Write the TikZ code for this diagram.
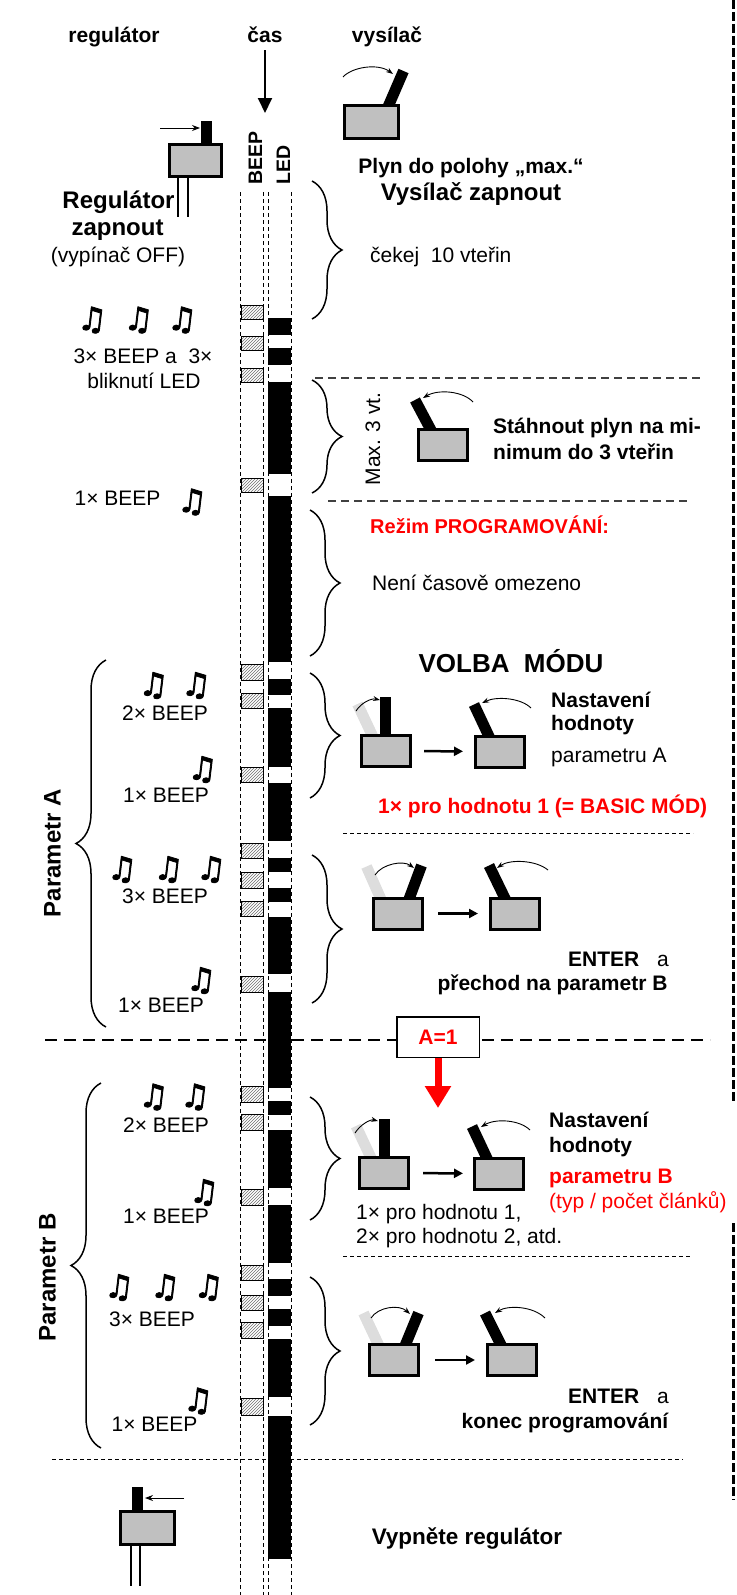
\documentclass[tikz,border=0pt]{standalone}
\usepackage{fontspec}
\setmainfont{Liberation Sans}
\newfontfamily\notefont[FakeBold=2.5,FakeSlant=0.12]{DejaVu Sans}
\usetikzlibrary{arrows.meta,decorations.pathreplacing,patterns,backgrounds}
\definecolor{boxgray}{RGB}{192,192,192}
\definecolor{ghostgray}{RGB}{221,221,221}
\definecolor{hatchgray}{RGB}{110,110,110}
\begin{document}
\begin{tikzpicture}[x=1pt,y=-1pt,
    every node/.style={inner sep=0pt, font=\fontsize{21}{25}\selectfont},
    bf/.style={font=\fontsize{21}{25}\selectfont\bfseries},
    big/.style={font=\fontsize{24}{28}\selectfont\bfseries},
    note/.style={font=\notefont\fontsize{32}{32}\selectfont},
    swbox/.style={draw, line width=3pt, fill=boxgray, minimum width=49pt, minimum height=31pt},
    bigbox/.style={swbox, minimum width=54pt, minimum height=33pt},
    stick/.style={line width=11pt},
    ghost/.style={line width=11pt, draw=ghostgray},
    swing/.style={line width=0.9pt, -{Stealth[length=7pt,width=5pt]}},
    movearrow/.style={line width=2.5pt, -{Triangle[length=9pt,width=9pt]}},
    pointer/.style={line width=1pt, -{Stealth[length=8pt,width=6pt]}},
    wire/.style={line width=1.5pt},
    beep/.style={draw, line width=0.8pt, pattern=north east lines, pattern color=hatchgray},
    col/.style={line width=0.9pt, dash pattern=on 4pt off 3pt},
    partline/.style={line width=1.3pt, dash pattern=on 8pt off 5pt, draw=black!75},
    thinpart/.style={line width=1pt, dash pattern=on 4pt off 3pt},
    thickpart/.style={line width=2.5pt, dash pattern=on 12pt off 7pt},
    rbrace/.style={decorate, decoration={brace, amplitude=30pt}, line width=1.5pt}]
  \useasboundingbox (0,0) rectangle (736,1595);

  \node[bf, anchor=base] (reg) at (114,43) {regulátor};
  \node[bf, anchor=base] (cas) at (265,43) {čas};
  \node[bf, anchor=base] (vys) at (387,43) {vysílač};
  \coordinate (casend) at (265,113);
  \draw[line width=2pt, -{Triangle[length=15pt,width=14pt]}] ([yshift=-7pt]cas.south) -- (casend);
  \node[font=\fontsize{19.5}{23}\selectfont\bfseries, rotate=90, anchor=base west] (beeplab) at (262,185) {BEEP};
  \node[font=\fontsize{19.5}{23}\selectfont\bfseries, rotate=90, anchor=base west] (ledlab) at (290,185) {LED};

  \foreach \x in {240,263,268,291}
    \draw[col] (\x,192) -- (\x,1595);

  \draw[partline] (315,378) -- (703,378);
  \draw[partline] (328,501) -- (690,501);
  \draw[thinpart] (343,833) -- (693,833);
  \draw[thickpart] (45,1040) -- (710,1040);
  \draw[thinpart] (343,1256) -- (690,1256);
  \draw[thinpart] (52,1459) -- (683,1459);
  \draw[line width=3pt, dash pattern=on 9pt off 3pt] (733,0) -- (733,1103);
  \draw[line width=3pt, dash pattern=on 9pt off 3pt] (733,1223) -- (733,1500);

  \foreach \a/\b in {305/319,336/350,368/382,478/492,664/680,693/708,767/782,843/858,872/888,901/916,976/992,1086/1102,1114/1130,1189/1205,1265/1280,1295/1310,1322/1338,1398/1415}
    \draw[beep] (241,\a) rectangle (263,\b);
  \foreach \a/\b in {318/335,348/365,382/474,496/662,679/695,708/767,783/841,858/872,888/902,917/974,992/1088,1101/1115,1130/1188,1205/1263,1279/1296,1309/1326,1339/1397,1416/1559}
    \fill (268,\a) rectangle (291,\b);

  \node[swbox, minimum width=52pt, minimum height=32pt] (reg0) at (195.5,160.5) {};
  \coordinate (reg0in) at (160,128);
  \coordinate (reg0tip) at (200,128);
  \draw[pointer] (reg0in) -- (reg0tip);
  \draw[wire] ([xshift=-17.5pt]reg0.south) -- ++(0,38.5);
  \draw[wire] ([xshift=-7.5pt]reg0.south) -- ++(0,38.5);
  \node[font=\fontsize{24}{28}\selectfont\bfseries, anchor=base] (regon) at (118.5,208) {Regulátor};
  \node[big, anchor=base] (regon2) at (117.5,235) {zapnout};
  \node[anchor=base] (regoff) at (118,262) {(vypínač OFF)};

  \node[bigbox] (vys0) at (371.5,122) {};
  \draw[swing] (343,77) .. controls (352,67) and (378,63) .. (393,74);
  \node[bf, anchor=base] (plyn) at (471,173) {Plyn do polohy „max.“};
  \node[big, anchor=base] (vyson) at (471,200) {Vysílač zapnout};

  \draw[rbrace] (312,181) -- (312,319);
  \node[anchor=base west] (wait10) at (370,262) {čekej\ \ 10 vteřin};

  \node[note] (n1a) at (91,320) {♫};
  \node[note] (n1b) at (137.5,320) {♫};
  \node[note] (n1c) at (181,320) {♫};
  \node[anchor=base] (beep3) at (143,363) {3× BEEP a\ \ 3×};
  \node[anchor=base] (blik) at (144,388) {bliknutí LED};

  \draw[rbrace] (312,380) -- (312,493);
  \node[rotate=90] (max3) at (373,439) {Max. 3 vt.};
  \node[swbox] (st0) at (442.5,445) {};
  \draw[swing] (473,402) .. controls (463,391) and (438,389) .. (423,398);
  \node[bf, anchor=base west] (sth1) at (493,433) {Stáhnout plyn na mi-};
  \node[bf, anchor=base west] (sth2) at (493,459) {nimum do 3 vteřin};
  \node[anchor=base] (b1) at (117.5,505) {1× BEEP};
  \node[note] (n2) at (191,502) {♫};

  \draw[rbrace] (310,510) -- (310,656);
  \node[font=\fontsize{20}{24}\selectfont\bfseries, text=red, anchor=base west] (prog) at (370,533) {Režim PROGRAMOVÁNÍ:};
  \node[anchor=base west] (noto) at (372,590) {Není časově omezeno};
  \node[font=\fontsize{26}{30}\selectfont\bfseries, anchor=base] (volba) at (511,672) {VOLBA\ \ MÓDU};

  \draw[rbrace] (106,1027) -- (106,660);
  \node[big, rotate=90] (parA) at (52.5,853) {Parametr A};

  \node[note] (n3a) at (152.5,685.5) {♫};
  \node[note] (n3b) at (195,685.5) {♫};
  \node[anchor=base] (b2a) at (165,720) {2× BEEP};
  \draw[rbrace] (310,673) -- (310,798);
  \node[swbox] (a1l) at (385.5,751) {};
  \node[swbox] (a1r) at (500,751.5) {};
  \draw[movearrow, shorten <=12.5pt, shorten >=11pt] (a1l) -- (a1r);
  \draw[swing] (356,711) .. controls (361,703) and (371,698) .. (380,700);
  \draw[swing] (531,708) .. controls (521,698) and (497,696) .. (482,703);
  \node[bf, anchor=base west] (nas1) at (551,707) {Nastavení};
  \node[bf, anchor=base west] (hod1) at (551,730) {hodnoty};
  \node[anchor=base west] (parA1) at (551,762) {parametru A};
  \node[bf, text=red, anchor=base west] (basic) at (378,813) {1× pro hodnotu 1 (= BASIC MÓD)};
  \node[anchor=base] (b1a) at (166,802) {1× BEEP};
  \node[note] (n4) at (201.5,769.5) {♫};

  \node[note] (n5a) at (121,869.5) {♫};
  \node[note] (n5b) at (167.5,869.5) {♫};
  \node[note] (n5c) at (210,869.5) {♫};
  \node[anchor=base] (b3a) at (165,903) {3× BEEP};
  \draw[rbrace] (312,855) -- (312,1003);
  \node[swbox] (a2l) at (397.5,913.5) {};
  \node[swbox] (a2r) at (515,913.5) {};
  \draw[movearrow, shorten <=14.5pt, shorten >=11pt] (a2l) -- (a2r);
  \draw[swing] (375,875) .. controls (382,864) and (403,860) .. (414,868);
  \draw[swing] (548,870) .. controls (536,860) and (510,859) .. (497,868);
  \node[bf, anchor=base west] (ent1) at (568,966) {ENTER};
  \node[anchor=base] (and1) at (663,966) {a};
  \node[bf, anchor=base] (toB) at (552.5,990) {přechod na parametr B};
  \node[anchor=base] (b1c) at (161,1012) {1× BEEP};
  \node[note] (n6) at (200,980.5) {♫};

  \node[draw, line width=1.5pt, fill=white, minimum width=82.5pt, minimum height=40.5pt, bf, text=red] (aone) at (438,1037) {A=1};
  \coordinate (aonetip) at (438,1108);
  \draw[red, line width=7pt, -{Triangle[length=22pt,width=25pt]}] (aone) -- (aonetip);

  \draw[rbrace] (101,1448) -- (101,1083);
  \node[big, rotate=90] (parB) at (47.5,1277.5) {Parametr B};

  \node[note] (n7a) at (152.5,1097) {♫};
  \node[note] (n7b) at (194,1097) {♫};
  \node[anchor=base] (b2b) at (166,1132) {2× BEEP};
  \draw[rbrace] (310,1097) -- (310,1220);
  \node[swbox] (b1l) at (384,1173) {};
  \node[swbox] (b1r) at (499,1173.5) {};
  \draw[movearrow, shorten <=13pt, shorten >=10pt] (b1l) -- (b1r);
  \draw[swing] (355,1133) .. controls (360,1125) and (370,1119) .. (378,1121);
  \draw[swing] (530,1130) .. controls (520,1120) and (496,1118) .. (481,1127);
  \node[bf, anchor=base west] (nas2) at (549,1127) {Nastavení};
  \node[bf, anchor=base west] (hod2) at (549,1152) {hodnoty};
  \node[bf, text=red, anchor=base west] (parB1) at (549,1183) {parametru B};
  \node[text=red, anchor=base west] (typ) at (549,1208) {(typ / počet článků)};
  \node[anchor=base west] (val1) at (356,1219) {1× pro hodnotu 1,};
  \node[anchor=base west] (val2) at (356,1243) {2× pro hodnotu 2, atd.};
  \node[anchor=base] (b1d) at (166,1223) {1× BEEP};
  \node[note] (n8) at (203,1192.5) {♫};

  \node[note] (n9a) at (118,1287.5) {♫};
  \node[note] (n9b) at (164,1287.5) {♫};
  \node[note] (n9c) at (207.5,1287.5) {♫};
  \node[anchor=base] (b3b) at (152,1326) {3× BEEP};
  \draw[rbrace] (310,1277) -- (310,1425);
  \node[swbox] (b2l) at (393.5,1360) {};
  \node[swbox] (b2r) at (511.5,1360) {};
  \draw[movearrow, shorten <=15.5pt, shorten >=10.5pt] (b2l) -- (b2r);
  \draw[swing] (371,1318) .. controls (378,1307) and (399,1304) .. (410,1314);
  \draw[swing] (545,1318) .. controls (533,1306) and (508,1305) .. (495,1313);
  \node[bf, anchor=base west] (ent2) at (568,1403) {ENTER};
  \node[anchor=base] (and2) at (663,1403) {a};
  \node[bf, anchor=base] (konec) at (565,1428) {konec programování};
  \node[anchor=base] (b1e) at (154.5,1431) {1× BEEP};
  \node[note] (n10) at (197,1401) {♫};

  \node[bigbox] (reg1) at (147.5,1528) {};
  \coordinate (reg1in) at (184,1498);
  \coordinate (reg1tip) at (145,1498);
  \draw[pointer] (reg1in) -- (reg1tip);
  \draw[wire] ([xshift=-16.5pt]reg1.south) -- ++(0,40);
  \draw[wire] ([xshift=-7.5pt]reg1.south) -- ++(0,40);
  \node[font=\fontsize{22.5}{27}\selectfont\bfseries, anchor=base] (vypn) at (467,1544) {Vypněte regulátor};

  \begin{scope}[on background layer]
    \draw[stick] ([xshift=11pt,yshift=-4pt]reg0.north) -- ++(0,-26.5);
    \draw[stick] ([xshift=16pt,yshift=-4pt]vys0.north) -- ++(16,-37);
    \draw[stick] ([xshift=-10.5pt,yshift=-4pt]st0.north) -- ++(-17,-32);
    \draw[ghost] ([xshift=-12pt,yshift=-4pt]a1l.north) -- ++(-16,-34);
    \draw[stick] ([yshift=-4pt]a1l.north) -- ++(0,-41.5);
    \draw[stick] ([xshift=-10pt,yshift=-4pt]a1r.north) -- ++(-16,-34);
    \draw[ghost] ([xshift=-16pt,yshift=-4pt]a2l.north) -- ++(-15,-34);
    \draw[stick] ([xshift=11pt,yshift=-4pt]a2l.north) -- ++(13,-35);
    \draw[stick] ([xshift=-9pt,yshift=-4pt]a2r.north) -- ++(-17,-35);
    \draw[ghost] ([xshift=-12pt,yshift=-4pt]b1l.north) -- ++(-16,-34);
    \draw[stick] ([yshift=-4pt]b1l.north) -- ++(0,-41.5);
    \draw[stick] ([xshift=-11pt,yshift=-4pt]b1r.north) -- ++(-16,-34);
    \draw[ghost] ([xshift=-14pt,yshift=-4pt]b2l.north) -- ++(-16,-34);
    \draw[stick] ([xshift=11pt,yshift=-4pt]b2l.north) -- ++(14,-34);
    \draw[stick] ([xshift=-9.5pt,yshift=-4pt]b2r.north) -- ++(-17,-34);
    \draw[stick] ([xshift=-10.5pt,yshift=-4pt]reg1.north) -- ++(0,-27);
  \end{scope}
\end{tikzpicture}
\end{document}
